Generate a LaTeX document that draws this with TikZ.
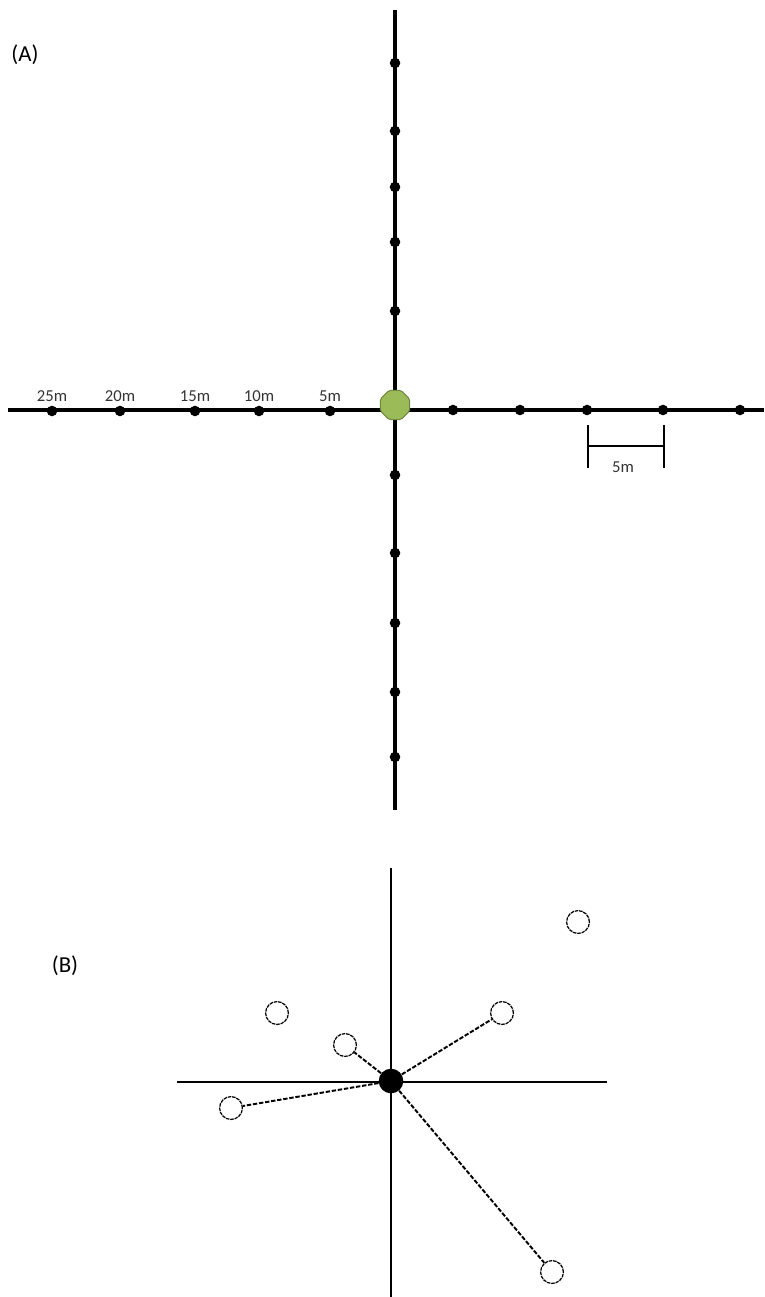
\documentclass[tikz,border=0pt]{standalone}
\usepackage{fontspec}
\setmainfont{Carlito}
\usetikzlibrary{shapes.geometric}
\definecolor{octfill}{HTML}{9BBB59}
\definecolor{octdraw}{HTML}{71893F}
\tikzset{
  axisA/.style={line width=1.8pt, black},
  dotA/.style={circle, fill=black, inner sep=0pt, minimum size=6pt},
  lblA/.style={font=\fontsize{9.5}{11}\selectfont, text=black!80, inner sep=0pt},
  axisB/.style={line width=1.1pt, black},
  ringB/.style={circle, draw=black, dash pattern=on 2pt off 0.5pt, line width=0.7pt, minimum size=13pt, inner sep=0pt, fill=white},
  linkB/.style={line width=1.1pt, dash pattern=on 2.5pt off 1pt},
  panel/.style={font=\fontsize{13}{15}\selectfont, inner sep=0pt}
}
\begin{document}
\begin{tikzpicture}[x=0.02cm, y=-0.02cm]
\useasboundingbox (0,0) rectangle (764,1297);
% ---------- Panel A ----------
\node[panel] (labA) at (25,55) {(A)};
\coordinate (vtop) at (395,10);
\coordinate (vbot) at (395,810);
\coordinate (hl) at (8,410);
\coordinate (hr) at (764,410);
\draw[axisA] (vtop) -- (vbot);
\draw[axisA] (hl) -- (hr);
% vertical dots
\foreach \n/\y in {u1/63,u2/131,u3/187,u4/242,u5/311,d1/475,d2/553,d3/623,d4/692,d5/757}
  \node[dotA] (\n) at (395,\y) {};
% left dots with labels
\foreach \n/\x/\t in {l5/52/25m,l4/120/20m,l3/195/15m,l2/259/10m,l1/330/5m}{
  \node[dotA] (\n) at (\x,411) {};
  \node[lblA, anchor=south] (t\n) at ([yshift=5pt]\n.center) {\t};
}
% right dots
\foreach \n/\x in {r1/453,r2/520,r3/587,r4/663,r5/740}
  \node[dotA] (\n) at (\x,410) {};
% centre octagon
\node[regular polygon, regular polygon sides=8, fill=octfill, draw=octdraw, line width=0.6pt, minimum size=18pt, inner sep=0pt, rounded corners=1pt] (oct) at (395,405) {};
% scale bar
\coordinate (s1t) at (588,425); \coordinate (s1b) at (588,468);
\coordinate (s2t) at (664,425); \coordinate (s2b) at (664,468);
\coordinate (s1m) at (588,446); \coordinate (s2m) at (664,446);
\draw[line width=1.4pt] (s1t) -- (s1b);
\draw[line width=1.4pt] (s2t) -- (s2b);
\draw[line width=1.4pt] (s1m) -- (s2m);
\node[lblA] (sbl) at (623,467) {5m};
% ---------- Panel B ----------
\node[panel] (labB) at (65,966) {(B)};
\coordinate (bvt) at (391,868);
\coordinate (bvb) at (391,1297);
\coordinate (bhl) at (177,1082);
\coordinate (bhr) at (607,1082);
\draw[axisB] (bvt) -- (bvb);
\draw[axisB] (bhl) -- (bhr);
\node[ringB] (c1) at (578,922) {};
\node[ringB] (c2) at (277,1013) {};
\node[ringB] (c3) at (345,1045) {};
\node[ringB] (c4) at (502,1013) {};
\node[ringB] (c5) at (231,1108) {};
\node[ringB] (c6) at (552,1272) {};
\node[circle, fill=black, minimum size=14pt, inner sep=0pt] (ctr) at (391,1081) {};
\foreach \c in {c3,c4,c5,c6}
  \draw[linkB] (ctr) -- (\c);
\end{tikzpicture}
\end{document}
